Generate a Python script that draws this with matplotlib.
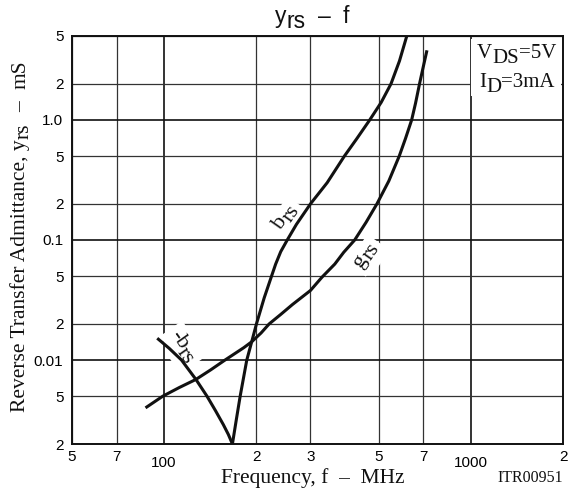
import numpy as np
import matplotlib
matplotlib.use("Agg")
import matplotlib.pyplot as plt
from matplotlib.ticker import FixedLocator, FixedFormatter
from matplotlib.transforms import IdentityTransform
from matplotlib.patches import Rectangle

# ---------------- data ----------------
brs_f = [167, 172, 177, 186, 193, 200, 212, 224, 231, 240, 252, 270, 300, 340, 387, 425,
         468, 510, 549, 585, 618]
brs_y = [0.002, 0.0032, 0.005, 0.01, 0.0142, 0.02, 0.033, 0.05, 0.063, 0.08, 0.1, 0.135,
         0.2, 0.3, 0.5, 0.7, 1.0, 1.4, 2.0, 3.1, 5.0]

grs_f = [87, 99, 112, 127, 142, 157, 182, 193, 207, 220, 240, 262, 300, 327, 360, 385, 418,
         455, 494, 540, 584, 612, 641, 660, 680, 700, 719]
grs_y = [0.004, 0.005, 0.0059, 0.0069, 0.0083, 0.0099, 0.0127, 0.0142, 0.0168, 0.02, 0.024,
         0.029, 0.038, 0.049, 0.063, 0.079, 0.1, 0.14, 0.2, 0.31, 0.5, 0.7, 1.0, 1.38, 2.0,
         2.8, 3.8]

nbrs_f = [95, 104, 114, 127, 138, 147, 156, 162, 167]
nbrs_y = [0.0152, 0.0125, 0.01, 0.0069, 0.005, 0.0038, 0.0029, 0.0024, 0.002]

x_major = [100, 1000]
x_major_labels = ["100", "1000"]
x_minor = [50, 70, 200, 300, 500, 700, 2000]
x_minor_labels = ["5", "7", "2", "3", "5", "7", "2"]
y_major = [0.01, 0.1, 1.0]
y_major_labels = ["0.01", "0.1", "1.0"]
y_minor = [0.002, 0.005, 0.02, 0.05, 0.2, 0.5, 2, 5]
y_minor_labels = ["2", "5", "2", "5", "2", "5", "2", "5"]

SERIF = "Liberation Serif"
SANS = "Liberation Sans"
W, H = 570, 497

fig = plt.figure(figsize=(W / 100, H / 100), dpi=100)
ax = fig.add_axes([71.7 / W, 53 / H, 491.6 / W, 408 / H])
ax.set_xscale("log")
ax.set_yscale("log")
ax.set_xlim(50, 2000)
ax.set_ylim(0.002, 5)

ax.xaxis.set_major_locator(FixedLocator(x_major))
ax.xaxis.set_major_formatter(FixedFormatter(x_major_labels))
ax.xaxis.set_minor_locator(FixedLocator(x_minor))
ax.xaxis.set_minor_formatter(FixedFormatter(x_minor_labels))
ax.yaxis.set_major_locator(FixedLocator(y_major))
ax.yaxis.set_major_formatter(FixedFormatter(y_major_labels))
ax.yaxis.set_minor_locator(FixedLocator(y_minor))
ax.yaxis.set_minor_formatter(FixedFormatter(y_minor_labels))

ax.tick_params(which="both", length=0, labelsize=11)
ax.tick_params(axis="x", which="major", pad=8.5)
ax.tick_params(axis="x", which="minor", pad=4.3)
ax.tick_params(axis="y", which="both", pad=6)
for lab in ax.get_xticklabels(which="both") + ax.get_yticklabels(which="both"):
    lab.set_family(SANS)

ax.set_axisbelow(True)
ax.grid(which="major", color="#111111", lw=1.2)
ax.grid(which="minor", color="#333333", lw=0.9)
for sp in ax.spines.values():
    sp.set_linewidth(1.4)
    sp.set_color("#111111")

lw = 2.2
for fx, fy in ((brs_f, brs_y), (grs_f, grs_y), (nbrs_f, nbrs_y)):
    ax.plot(fx, fy, color="#111111", lw=lw, zorder=2.5,
            solid_capstyle="butt", solid_joinstyle="round")

renderer = fig.canvas.get_renderer()
ID = IdentityTransform()


def tw(s, size, family):
    t = ax.text(0, 0, s, fontsize=size, family=family, transform=ID)
    w = t.get_window_extent(renderer).width
    t.remove()
    return w


def rich(xd, yd, parts, size, family, angle=0, ha="center", bbox=None, z=3):
    th = np.deg2rad(angle)
    ux, uy = np.cos(th), np.sin(th)
    nx, ny = -np.sin(th), np.cos(th)
    ws = [tw(s, size, family) for s, _, _ in parts]
    total = sum(ws) + sum(g for _, _, g in parts)
    a = {"center": -total / 2, "left": 0.0, "right": -total}[ha]
    spots = []
    for (s, d, g), w in zip(parts, ws):
        a += g
        spots.append((xd + a * ux - d * nx, yd + a * uy - d * ny, s))
        a += w
    layers = []
    if bbox is not None:
        layers.append(((0, 0, 0, 0), bbox, z - 0.05))
    layers.append(("#111111", None, z))
    for color, bb, zz in layers:
        for px, py, s in spots:
            ax.text(px, py, s, fontsize=size, family=family, transform=ID,
                    rotation=angle, rotation_mode="anchor", ha="left", va="baseline",
                    bbox=bb, zorder=zz, clip_on=False, color=color)


def curve_label(f, v, parts, angle, size=16):
    xd, yd = ax.transData.transform((f, v))
    th = np.deg2rad(angle)
    off = 0.3 * size * 100 / 72
    xd += np.sin(th) * off
    yd -= np.cos(th) * off
    rich(xd, yd, parts, size, SERIF, angle=angle,
         bbox=dict(facecolor="white", edgecolor="none", pad=3), z=1.5)


curve_label(244, 0.162, [("b", 0, 0), ("rs", 4.5, 0)], 55)
curve_label(445, 0.078, [("g", 0, 0), ("rs", 4.5, 0)], 55)
curve_label(117, 0.0134, [("-b", 0, 0), ("rs", 4.5, 0)], -55)

# condition box
ax.add_patch(Rectangle((471, H - 96), 90, 57, transform=ID, facecolor="white",
                       edgecolor="none", zorder=1.6))
rich(477, H - 58.3, [("V", 0, 0), ("DS", 5, 0), ("=5V", 0, 0)], 15, SERIF, ha="left")
rich(479, H - 86.7, [("I", 0, 0), ("D", 5, 0), ("=3mA", 0, 0)], 15, SERIF, ha="left")

# title
rich(312, H - 23, [("y", 0, 0), ("rs", 5, 0), ("\u2013", 0, 12), ("f", 0, 12)], 16.5, SANS)

# axis labels
ax.text(312.5, H - 483, "Frequency, f  \u2013  MHz", fontsize=15.5, family=SERIF,
        transform=ID, ha="center", va="baseline", clip_on=False, color="#111111")
rich(25, H - 236, [("Reverse Transfer Admittance, y", 0, 0), ("rs", 4, 0),
                   ("\u2013", 0, 12), ("mS", 0, 12)], 15.5, SERIF, angle=90)
ax.text(563, H - 482, "ITR00951", fontsize=11.5, family=SERIF, transform=ID,
        ha="right", va="baseline", clip_on=False, color="#111111")

fig.savefig("out.png", dpi=100)
